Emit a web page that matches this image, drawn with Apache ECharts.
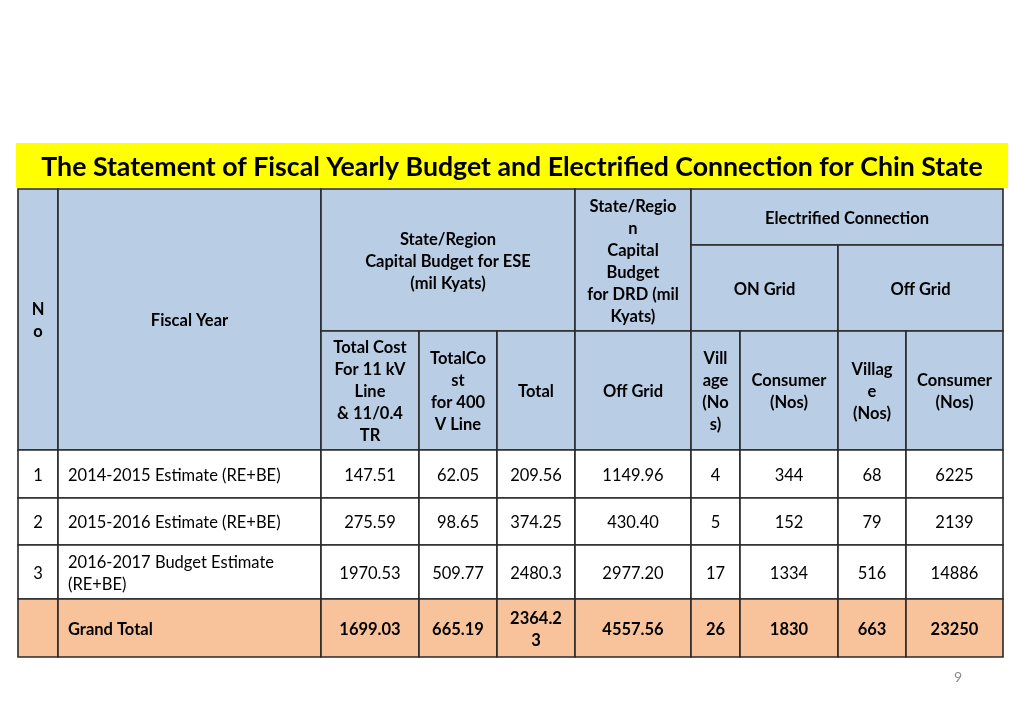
<!DOCTYPE html>
<html>
<head>
<meta charset="utf-8">
<script src="https://cdn.jsdelivr.net/npm/echarts@6/dist/echarts.min.js"></script>
<style>html,body{margin:0;padding:0;background:#fff;}#chart{width:1024px;height:709px;}</style>
</head>
<body>
<div id="chart"></div>
<script>
// ---- data ----
const titleText = 'The Statement of Fiscal Yearly Budget and Electrified Connection for Chin State';
const rowNumbers = ['1', '2', '3'];
const fiscalYears = ['2014-2015 Estimate (RE+BE)', '2015-2016 Estimate (RE+BE)', '2016-2017 Budget Estimate\n(RE+BE)'];
const cost11kV = ['147.51', '275.59', '1970.53'];
const cost400V = ['62.05', '98.65', '509.77'];
const eseTotal = ['209.56', '374.25', '2480.3'];
const drdOffGrid = ['1149.96', '430.40', '2977.20'];
const onGridVillages = ['4', '5', '17'];
const onGridConsumers = ['344', '152', '1334'];
const offGridVillages = ['68', '79', '516'];
const offGridConsumers = ['6225', '2139', '14886'];
const grandTotalLabel = 'Grand Total';
const grandTotal = ['1699.03', '665.19', '2364.2\n3', '4557.56', '26', '1830', '663', '23250'];
const topHeaders = ['N\no', 'Fiscal Year', 'State/Region\nCapital Budget for ESE\n(mil Kyats)',
  'State/Regio\nn\nCapital\nBudget\nfor DRD (mil\nKyats)', 'Electrified Connection', 'ON Grid', 'Off Grid'];
const subHeaders = ['Total Cost\nFor 11 kV\nLine\n& 11/0.4\nTR', 'TotalCo\nst\nfor 400\nV Line', 'Total',
  'Off Grid', 'Vill\nage\n(No\ns)', 'Consumer\n(Nos)', 'Villag\ne\n(Nos)', 'Consumer\n(Nos)'];
const pageNumber = '9';

// ---- layout (axis units) ----
const colEdges = [0, 40, 303, 401, 479, 557, 673, 722, 820, 888, 985];
const rowEdges = [0, 56, 142, 261, 309, 356, 410, 468];

const HEADER = '#b9cde5', BODY = '#ffffff', TOTAL = '#f8c39b';
const cells = [];
function add(c0, c1, r0, r1, text, fill, bold, align) {
  cells.push({ value: [c0, c1, r0, r1], text: text, fill: fill, bold: bold, align: align || 'center' });
}
// header
add(0, 1, 0, 3, topHeaders[0], HEADER, true);
add(1, 2, 0, 3, topHeaders[1], HEADER, true);
add(2, 5, 0, 2, topHeaders[2], HEADER, true);
add(5, 6, 0, 2, topHeaders[3], HEADER, true);
add(6, 10, 0, 1, topHeaders[4], HEADER, true);
add(6, 8, 1, 2, topHeaders[5], HEADER, true);
add(8, 10, 1, 2, topHeaders[6], HEADER, true);
subHeaders.forEach((t, i) => add(2 + i, 3 + i, 2, 3, t, HEADER, true));
// body
const valueCols = [cost11kV, cost400V, eseTotal, drdOffGrid, onGridVillages, onGridConsumers, offGridVillages, offGridConsumers];
rowNumbers.forEach((n, r) => {
  add(0, 1, 3 + r, 4 + r, n, BODY, false);
  add(1, 2, 3 + r, 4 + r, fiscalYears[r], BODY, false, 'left');
  valueCols.forEach((col, c) => add(2 + c, 3 + c, 3 + r, 4 + r, col[r], BODY, false));
});
// grand total
add(0, 1, 6, 7, '', TOTAL, true);
add(1, 2, 6, 7, grandTotalLabel, TOTAL, true, 'left');
grandTotal.forEach((t, c) => add(2 + c, 3 + c, 6, 7, t, TOTAL, true));

const FONT = 'Lato, "Open Sans", sans-serif';
const chart = echarts.init(document.getElementById('chart'), null, { renderer: 'canvas' });
chart.setOption({
  animation: false,
  backgroundColor: '#ffffff',
  grid: { left: 18, right: 21, top: 189, bottom: 52 },
  xAxis: { type: 'value', min: 0, max: colEdges[colEdges.length - 1], show: false },
  yAxis: { type: 'value', min: 0, max: rowEdges[rowEdges.length - 1], inverse: true, show: false },
  graphic: [
    { type: 'rect', left: 16, top: 143, shape: { width: 992, height: 45 }, style: { fill: '#ffff00' }, z: 0 },
    { type: 'text', x: 512, y: 167, style: { text: titleText, fill: '#000', font: 'bold 26.7px ' + FONT, align: 'center', verticalAlign: 'middle' }, z: 1 },
    { type: 'text', x: 958, y: 677, style: { text: pageNumber, fill: '#8c8c8c', font: '14px ' + FONT, align: 'center', verticalAlign: 'middle' } }
  ],
  series: [{
    type: 'custom',
    coordinateSystem: 'cartesian2d',
    encode: { x: [0, 1], y: [2, 3] },
    data: cells.map(c => ({ value: c.value })),
    renderItem: function (params, api) {
      const cell = cells[params.dataIndex];
      const p0 = api.coord([colEdges[api.value(0)], rowEdges[api.value(2)]]);
      const p1 = api.coord([colEdges[api.value(1)], rowEdges[api.value(3)]]);
      const x = p0[0], y = p0[1], w = p1[0] - p0[0], h = p1[1] - p0[1];
      const tx = cell.align === 'left' ? x + 10 : x + w / 2;
      return {
        type: 'group',
        children: [
          { type: 'rect', shape: { x: x, y: y, width: w, height: h },
            style: { fill: cell.fill, stroke: '#2a2a2a', lineWidth: 1.6 } },
          { type: 'text', x: tx, y: y + h / 2 + 1.5,
            style: { text: cell.text, fill: '#000', align: cell.align, verticalAlign: 'middle',
              font: (cell.bold ? 'bold 16.5px ' : '16.5px ') + FONT, lineHeight: 22 }, z2: 10 }
        ]
      };
    }
  }]
});
</script>
</body>
</html>
